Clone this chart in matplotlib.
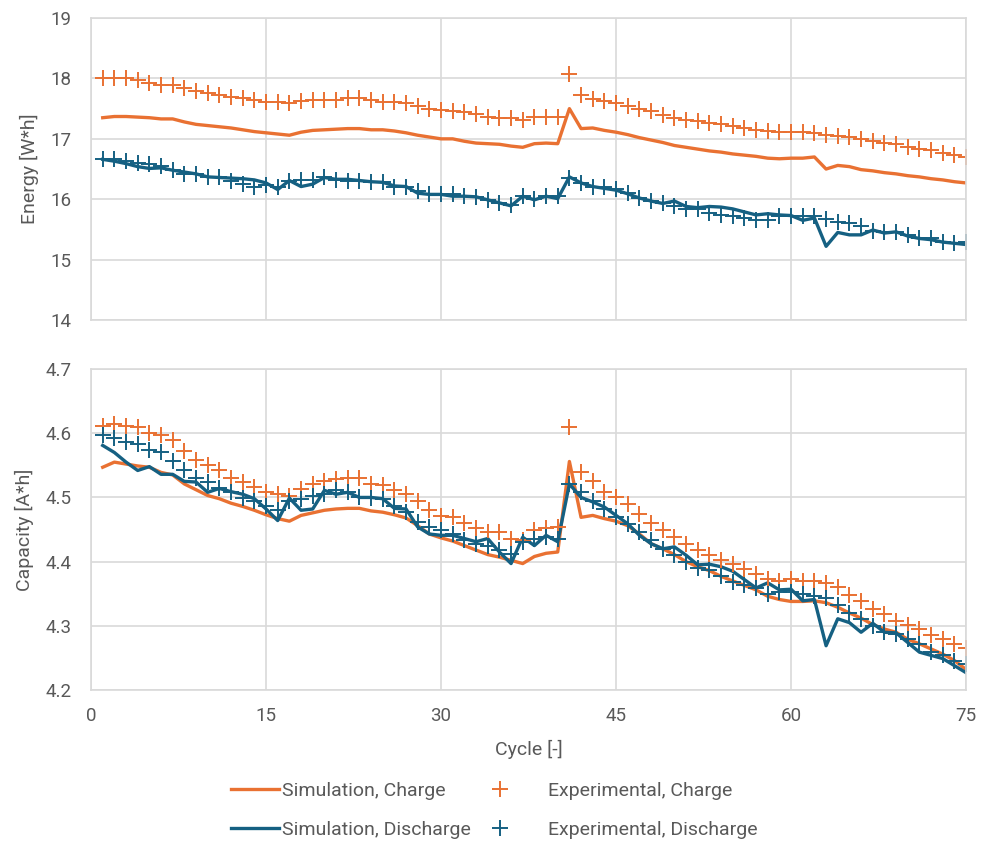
import matplotlib.pyplot as plt
import numpy as np

# cycle numbers
cycles = np.arange(1, 76)

# Energy [W*h]
energy_exp_charge = [18.00, 18.00, 18.00, 17.97, 17.93, 17.90, 17.90, 17.85, 17.79, 17.76,
                     17.73, 17.70, 17.68, 17.65, 17.61, 17.61, 17.59, 17.62, 17.65, 17.65,
                     17.65, 17.68, 17.68, 17.65, 17.61, 17.61, 17.60, 17.54, 17.50, 17.47,
                     17.46, 17.44, 17.41, 17.37, 17.35, 17.35, 17.32, 17.37, 17.37, 17.37,
                     18.08, 17.72, 17.66, 17.62, 17.60, 17.54, 17.50, 17.46, 17.40, 17.35,
                     17.32, 17.29, 17.27, 17.24, 17.21, 17.18, 17.15, 17.13, 17.11, 17.11,
                     17.11, 17.09, 17.07, 17.05, 17.03, 16.99, 16.96, 16.93, 16.91, 16.87,
                     16.84, 16.81, 16.77, 16.74, 16.70]
energy_sim_charge = [17.35, 17.37, 17.37, 17.36, 17.35, 17.33, 17.33, 17.28, 17.24, 17.22,
                     17.20, 17.18, 17.15, 17.12, 17.10, 17.08, 17.06, 17.11, 17.14, 17.15,
                     17.16, 17.17, 17.17, 17.15, 17.15, 17.13, 17.10, 17.06, 17.03, 17.00,
                     17.00, 16.96, 16.93, 16.92, 16.91, 16.88, 16.86, 16.92, 16.93, 16.92,
                     17.50, 17.17, 17.18, 17.14, 17.11, 17.07, 17.02, 16.98, 16.94, 16.89,
                     16.86, 16.83, 16.80, 16.78, 16.75, 16.73, 16.71, 16.68, 16.67, 16.68,
                     16.68, 16.70, 16.50, 16.56, 16.54, 16.49, 16.47, 16.44, 16.42, 16.39,
                     16.37, 16.34, 16.32, 16.29, 16.27]
energy_exp_discharge = [16.66, 16.66, 16.63, 16.60, 16.59, 16.55, 16.49, 16.42, 16.41, 16.37,
                        16.36, 16.31, 16.25, 16.21, 16.24, 16.21, 16.31, 16.32, 16.32, 16.36,
                        16.32, 16.31, 16.30, 16.29, 16.28, 16.21, 16.21, 16.13, 16.08, 16.08,
                        16.08, 16.05, 16.04, 15.99, 15.94, 15.90, 16.05, 16.01, 16.05, 16.05,
                        16.35, 16.27, 16.21, 16.20, 16.17, 16.10, 16.02, 15.97, 15.93, 15.89,
                        15.84, 15.83, 15.78, 15.74, 15.72, 15.69, 15.66, 15.66, 15.72, 15.72,
                        15.72, 15.72, 15.67, 15.63, 15.60, 15.56, 15.47, 15.46, 15.46, 15.41,
                        15.36, 15.36, 15.30, 15.28, 15.29]
energy_sim_discharge = [16.66, 16.63, 16.59, 16.54, 16.51, 16.52, 16.48, 16.45, 16.42, 16.37,
                        16.36, 16.35, 16.34, 16.32, 16.27, 16.16, 16.31, 16.21, 16.25, 16.36,
                        16.33, 16.33, 16.31, 16.29, 16.28, 16.22, 16.21, 16.10, 16.08, 16.08,
                        16.05, 16.05, 16.04, 15.99, 15.94, 15.89, 16.05, 15.99, 16.05, 16.01,
                        16.37, 16.27, 16.21, 16.18, 16.15, 16.09, 16.02, 15.97, 15.93, 15.97,
                        15.88, 15.86, 15.88, 15.87, 15.84, 15.79, 15.74, 15.76, 15.74, 15.73,
                        15.65, 15.69, 15.22, 15.45, 15.41, 15.41, 15.49, 15.44, 15.46, 15.39,
                        15.35, 15.33, 15.29, 15.27, 15.25]

# Capacity [A*h]
cap_exp_charge = [4.611, 4.614, 4.611, 4.609, 4.600, 4.597, 4.590, 4.573, 4.559, 4.551,
                  4.542, 4.531, 4.524, 4.516, 4.509, 4.505, 4.503, 4.513, 4.521, 4.525,
                  4.528, 4.530, 4.530, 4.521, 4.519, 4.512, 4.505, 4.494, 4.481, 4.471,
                  4.469, 4.460, 4.452, 4.446, 4.446, 4.436, 4.433, 4.450, 4.452, 4.454,
                  4.610, 4.539, 4.526, 4.509, 4.500, 4.490, 4.474, 4.460, 4.450, 4.438,
                  4.428, 4.418, 4.411, 4.403, 4.397, 4.389, 4.380, 4.373, 4.370, 4.373,
                  4.370, 4.370, 4.367, 4.360, 4.348, 4.338, 4.327, 4.318, 4.308, 4.302,
                  4.295, 4.286, 4.279, 4.272, 4.265]
cap_exp_discharge = [4.597, 4.593, 4.587, 4.583, 4.574, 4.571, 4.556, 4.542, 4.531, 4.524,
                     4.514, 4.509, 4.499, 4.494, 4.486, 4.481, 4.494, 4.498, 4.502, 4.505,
                     4.511, 4.508, 4.500, 4.499, 4.497, 4.486, 4.477, 4.462, 4.454, 4.449,
                     4.443, 4.433, 4.428, 4.425, 4.418, 4.412, 4.431, 4.436, 4.438, 4.436,
                     4.521, 4.508, 4.495, 4.482, 4.469, 4.459, 4.446, 4.433, 4.419, 4.411,
                     4.400, 4.390, 4.387, 4.377, 4.369, 4.363, 4.359, 4.350, 4.353, 4.353,
                     4.349, 4.346, 4.343, 4.332, 4.320, 4.310, 4.299, 4.290, 4.287, 4.279,
                     4.271, 4.260, 4.255, 4.246, 4.241]
cap_sim_charge = [4.547, 4.555, 4.552, 4.549, 4.547, 4.539, 4.535, 4.521, 4.512, 4.503,
                  4.498, 4.491, 4.486, 4.480, 4.473, 4.467, 4.463, 4.472, 4.476, 4.480,
                  4.482, 4.483, 4.483, 4.479, 4.477, 4.473, 4.468, 4.456, 4.443, 4.437,
                  4.432, 4.425, 4.418, 4.411, 4.407, 4.402, 4.397, 4.408, 4.413, 4.415,
                  4.556, 4.469, 4.472, 4.467, 4.463, 4.456, 4.443, 4.428, 4.420, 4.411,
                  4.400, 4.392, 4.386, 4.377, 4.370, 4.363, 4.356, 4.346, 4.341, 4.338,
                  4.338, 4.339, 4.336, 4.329, 4.320, 4.312, 4.302, 4.295, 4.290, 4.279,
                  4.272, 4.264, 4.256, 4.246, 4.232]
cap_sim_discharge = [4.581, 4.570, 4.555, 4.542, 4.548, 4.536, 4.536, 4.525, 4.524, 4.508,
                     4.514, 4.509, 4.505, 4.498, 4.482, 4.464, 4.499, 4.480, 4.482, 4.511,
                     4.505, 4.508, 4.500, 4.500, 4.498, 4.483, 4.482, 4.454, 4.443, 4.441,
                     4.441, 4.436, 4.431, 4.436, 4.415, 4.397, 4.438, 4.425, 4.441, 4.431,
                     4.521, 4.500, 4.493, 4.485, 4.472, 4.459, 4.441, 4.428, 4.420, 4.423,
                     4.410, 4.395, 4.396, 4.392, 4.385, 4.372, 4.359, 4.367, 4.356, 4.357,
                     4.339, 4.341, 4.269, 4.311, 4.305, 4.290, 4.304, 4.290, 4.289, 4.274,
                     4.259, 4.254, 4.249, 4.238, 4.227]

orange = '#E97132'
blue = '#156082'
grid_c = '#D9D9D9'
text_c = '#595959'

plt.rcParams['font.family'] = ['Roboto', 'DejaVu Sans']

fig = plt.figure(figsize=(9.81, 8.41), dpi=100)
ax1 = fig.add_axes([0.0928, 0.6195, 0.892, 0.359])
ax2 = fig.add_axes([0.0928, 0.1795, 0.892, 0.3817])


def style(ax, ylim, yticks):
    ax.set_xlim(0, 75)
    ax.set_xticks(np.arange(0, 76, 15))
    ax.set_ylim(*ylim)
    ax.set_yticks(yticks)
    ax.grid(True, color=grid_c, linewidth=1.2)
    ax.set_axisbelow(True)
    for s in ax.spines.values():
        s.set_color(grid_c)
        s.set_linewidth(1.2)
    ax.tick_params(axis='y', length=0, colors=text_c, labelsize=13.5, pad=14)
    ax.tick_params(axis='x', length=0, colors=text_c, labelsize=13.5, pad=12)


# top: energy
ax1.plot(cycles, energy_sim_charge, color=orange, lw=2.4)
ax1.plot(cycles, energy_sim_discharge, color=blue, lw=2.4)
ax1.plot(cycles, energy_exp_charge, '+', color=orange, ms=11, mew=1.4)
ax1.plot(cycles, energy_exp_discharge, '+', color=blue, ms=11, mew=1.4)
style(ax1, (14, 19), np.arange(14, 19.1, 1))
ax1.set_xticklabels([])
ax1.set_ylabel('Energy [W*h]', color=text_c, fontsize=14, labelpad=8)

# bottom: capacity
l1, = ax2.plot(cycles, cap_sim_charge, color=orange, lw=2.4, label='Simulation, Charge')
l2, = ax2.plot(cycles, cap_sim_discharge, color=blue, lw=2.4, label='Simulation, Discharge')
l3, = ax2.plot(cycles, cap_exp_charge, '+', color=orange, ms=11, mew=1.4, label='Experimental, Charge')
l4, = ax2.plot(cycles, cap_exp_discharge, '+', color=blue, ms=11, mew=1.4, label='Experimental, Discharge')
style(ax2, (4.2, 4.7), np.round(np.arange(4.2, 4.71, 0.1), 1))
ax2.set_yticklabels(['4.2', '4.3', '4.4', '4.5', '4.6', '4.7'])
ax2.set_ylabel('Capacity [A*h]', color=text_c, fontsize=14, labelpad=8)
ax2.set_xlabel('Cycle [-]', color=text_c, fontsize=14, labelpad=11)

# legend in two blocks, like the Excel legend
leg1 = fig.legend(handles=[l1, l2], loc='center left', bbox_to_anchor=(0.218, 0.0363),
                  frameon=False, fontsize=14, handlelength=2.45, handletextpad=0.15,
                  labelspacing=1.1)
leg2 = fig.legend(handles=[l3, l4], loc='center left', bbox_to_anchor=(0.468, 0.0363),
                  frameon=False, fontsize=14, handlelength=2.45, handletextpad=1.2,
                  labelspacing=1.1)
for leg in (leg1, leg2):
    for t in leg.get_texts():
        t.set_color(text_c)

fig.savefig('out.png', dpi=100)
